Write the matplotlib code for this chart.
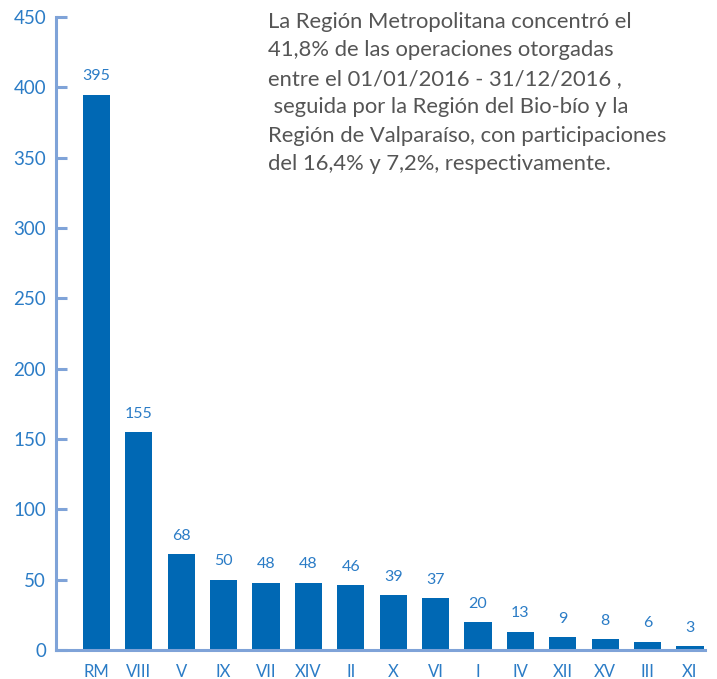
import matplotlib.pyplot as plt

regions = ["RM", "VIII", "V", "IX", "VII", "XIV", "II", "X", "VI", "I", "IV", "XII", "XV", "III", "XI"]
operations = [395, 155, 68, 50, 48, 48, 46, 39, 37, 20, 13, 9, 8, 6, 3]
y_ticks = [0, 50, 100, 150, 200, 250, 300, 350, 400, 450]

note = (
    "La Región Metropolitana concentró el\n"
    "41,8% de las operaciones otorgadas\n"
    "entre el 01/01/2016 - 31/12/2016 ,\n"
    " seguida por la Región del Bio-bío y la\n"
    "Región de Valparaíso, con participaciones\n"
    "del 16,4% y 7,2%, respectivamente."
)

BAR_COLOR = "#0068b4"
LABEL_COLOR = "#2b7cc6"
AXIS_COLOR = "#7fa3d8"
TEXT_COLOR = "#555555"

plt.rcParams["font.family"] = ["Lato", "DejaVu Sans"]

fig = plt.figure(figsize=(7.17, 6.79), dpi=100)
ax = fig.add_axes([0.078, 0.0427, 0.905, 0.932])

x = list(range(len(regions)))
ax.bar(x, operations, width=0.64, color=BAR_COLOR, zorder=2)

for xi, val in zip(x, operations):
    ax.text(xi, val + 8, str(val), ha="center", va="bottom",
            color=LABEL_COLOR, fontsize=11.5)

ax.set_xlim(-0.955, 14.35)
ax.set_ylim(0, 450)
ax.set_yticks(y_ticks)
ax.set_xticks(x)
ax.set_xticklabels(regions)

for side in ("top", "right"):
    ax.spines[side].set_visible(False)
for side in ("left", "bottom"):
    ax.spines[side].set_color(AXIS_COLOR)
    ax.spines[side].set_linewidth(2.2)

ax.tick_params(axis="y", direction="in", length=8, width=2.2, color=AXIS_COLOR,
               labelcolor=LABEL_COLOR, labelsize=13.5, pad=7)
ax.tick_params(axis="x", length=0, labelcolor=LABEL_COLOR, labelsize=12, pad=10)

fig.text(268 / 717, 1 - 12 / 679, note, ha="left", va="top",
         color=TEXT_COLOR, fontsize=15.8, linespacing=1.53)

fig.savefig("out.png", dpi=100)
